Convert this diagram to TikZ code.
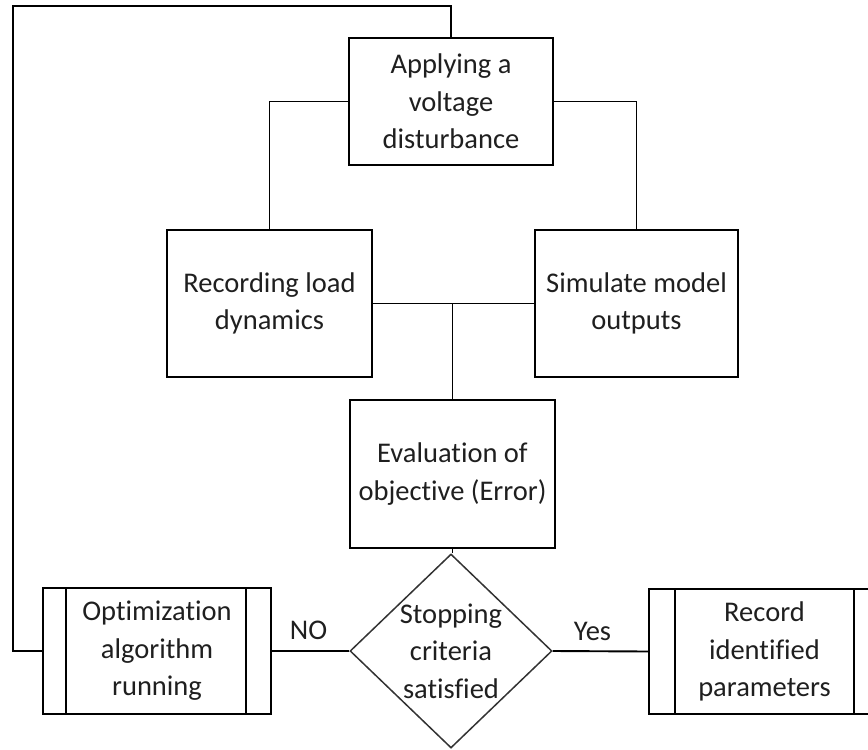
\documentclass[tikz,border=0pt]{standalone}
\usepackage{fontspec}
\setmainfont{Carlito}[Ligatures=NoCommon]
\usetikzlibrary{shapes.geometric,calc}
\begin{document}
\begin{tikzpicture}[x=1pt,y=-1pt,
  every node/.style={font=\fontsize{28.5}{37.5}\selectfont, text=black!88},
  stepbox/.style={draw, line width=1.5pt, rectangle, inner sep=0pt, align=center},
  wire/.style={line width=1.9pt},
  decision/.style={draw=black!80, line width=1.5pt, diamond, inner sep=0pt},
  plain/.style={inner sep=0pt, align=center}]
\useasboundingbox (0,0) rectangle (868,750);

% process steps
\node[stepbox, minimum width=204pt, minimum height=127pt] (apply) at (451,101.5)
  {Applying a\\voltage\\disturbance};
\node[stepbox, minimum width=205pt, minimum height=147pt] (rec) at (269.5,303.5)
  {Recording load\\dynamics};
\node[stepbox, minimum width=203pt, minimum height=147pt] (sim) at (636.5,303.5)
  {Simulate model\\outputs};
\node[stepbox, minimum width=205pt, minimum height=148pt] (eval) at (452.5,474)
  {Evaluation of\\objective (Error)};

% decision
\node[decision, minimum width=202pt, minimum height=194pt] (dec) at (451,651) {};
\node[plain] (dectext) at (dec.center) {Stopping\\criteria\\satisfied};

% predefined processes
\node[stepbox, minimum width=228pt, minimum height=126pt] (opt) at (157,651)
  {Optimization\\algorithm\\running};
\draw[wire] ($(opt.north west)+(24,0)$) -- ($(opt.south west)+(24,0)$);
\draw[wire] ($(opt.north east)+(-26,0)$) -- ($(opt.south east)+(-26,0)$);

\node[stepbox, minimum width=231pt, minimum height=125pt] (recid) at (764.5,651.5)
  {Record\\identified\\parameters};
\draw[wire] ($(recid.north west)+(27,0)$) -- ($(recid.south west)+(27,0)$);
\draw[wire] ($(recid.north east)+(-27,0)$) -- ($(recid.south east)+(-27,0)$);

% connectors
\coordinate (loopA) at (13,651);
\coordinate (loopB) at (13,6);
\coordinate (loopC) at (451,6);
\draw[wire] (opt.west) -- (loopA) -- (loopB) -- (loopC) -- (apply.north);

\draw[wire] (apply.west) -| (rec.north);
\draw[wire] (apply.east) -| (sim.north);
\draw[wire] (rec.east) -- (sim.west);
\coordinate (join) at ($(rec.east)!0.5!(sim.west)$);
\draw[wire] (join -| eval.north) -- (eval.north);
\draw[wire] (eval.south) -- (eval.south |- dec.north);

\draw[wire] (dec.west) -- (opt.east)
  node[plain, midway, above=10pt, xshift=-2pt] (nolbl) {NO};
\draw[wire] (dec.east) -- (recid.west)
  node[plain, midway, above=10pt, xshift=-8pt] (yeslbl) {Yes};
\end{tikzpicture}
\end{document}
